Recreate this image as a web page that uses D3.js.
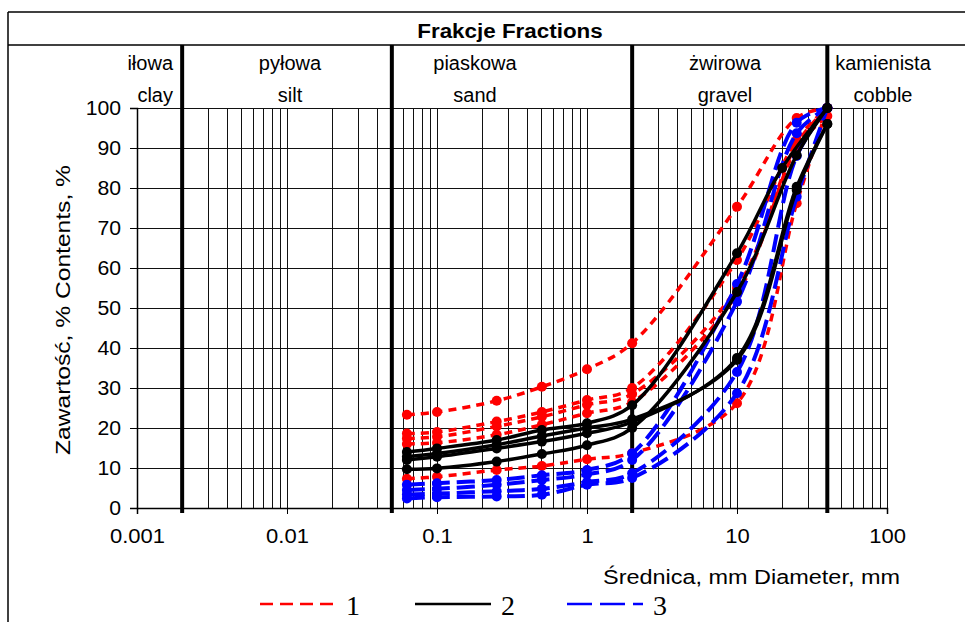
<!DOCTYPE html>
<html>
<head>
<meta charset="utf-8">
<script src="https://cdn.jsdelivr.net/npm/d3@7/dist/d3.min.js"></script>
<style>
    body { margin: 0; background: #fff; }
    text { font-family: "Liberation Sans", Arial, sans-serif; fill: #000; }
</style>
</head>
<body>
<svg id="chart" width="965" height="622"></svg>
<script>
// Sieve sizes, mm
const sieves = [0.063, 0.1, 0.25, 0.5, 1, 2, 10, 25, 40];
const sievesAlt = [0.063, 0.1, 0.25, 0.5, 1, 2, 10, 20, 40];

// Group 1 (red, short dash) - passing, %
const red1 = [23.3, 24.0, 26.8, 30.3, 34.7, 41.2, 75.3, 97.5, 100];
const red2 = [18.6, 19.0, 21.6, 24.0, 27.0, 30.0, 62.0, 92.0, 100];
const red3 = [17.4, 17.8, 20.4, 22.8, 25.8, 28.5, 55.0, 91.0, 100];
const red4 = [16.0, 16.3, 18.3, 20.8, 23.7, 26.5, 53.5, 90.0, 98];
const red5 = [7.3, 7.8, 9.5, 10.5, 12.2, 13.7, 26.2, 76.2, 100];

// Group 2 (black, solid)
const black1 = [9.7, 9.9, 11.6, 13.5, 15.7, 20.0, 54.0, 88.2, 100];
const black2 = [12.0, 12.8, 14.9, 16.6, 18.7, 21.5, 37.5, 80.3, 96];
const black3 = [14.0, 14.9, 17.0, 19.5, 21.2, 25.7, 63.7, 85.0, 100];
const black4 = [12.8, 13.6, 15.8, 18.0, 20.0, 22.2, 37.0, 79.5, 96];

// Group 3 (blue, long dash)
const blue1 = [5.8, 6.2, 7.0, 8.2, 9.5, 13.7, 56.0, 96.3, 100];
const blue2 = [4.5, 4.8, 5.8, 7.0, 8.4, 12.0, 51.6, 93.7, 100];
const blue3 = [3.4, 3.6, 4.2, 4.8, 6.5, 8.7, 34.0, 88.0, 100];
const blue4 = [2.4, 2.7, 2.9, 3.3, 5.8, 7.5, 28.7, 77.8, 100];

// Fraction boundaries and names
const boundaries = [0.002, 0.05, 2, 40];
const fractionPl = ["iłowa", "pyłowa", "piaskowa", "żwirowa", "kamienista"];
const fractionEn = ["clay", "silt", "sand", "gravel", "cobble"];

// Axis ticks
const xTicks = [0.001, 0.01, 0.1, 1, 10, 100];
const xTickLabels = ["0.001", "0.01", "0.1", "1", "10", "100"];
const yTicks = [0, 10, 20, 30, 40, 50, 60, 70, 80, 90, 100];

const series = [
    { group: 1, sizes: sieves, values: red1 },
    { group: 1, sizes: sieves, values: red2 },
    { group: 1, sizes: sieves, values: red3 },
    { group: 1, sizes: sieves, values: red4 },
    { group: 1, sizes: sieves, values: red5 },
    { group: 3, sizes: sieves, values: blue1 },
    { group: 3, sizes: sieves, values: blue2 },
    { group: 3, sizes: sieves, values: blue3 },
    { group: 3, sizes: sieves, values: blue4 },
    { group: 2, sizes: sieves, values: black1 },
    { group: 2, sizes: sieves, values: black2 },
    { group: 2, sizes: sievesAlt, values: black3 },
    { group: 2, sizes: sieves, values: black4 }
];

const groupStyle = {
    1: { color: "#ff0000", dash: "8,6", width: 3.5 },
    2: { color: "#000000", dash: null, width: 3.5 },
    3: { color: "#0000ff", dash: "18,7", width: 4 }
};

const svg = d3.select("#chart");

let x = d3.scaleLog().domain([0.001, 100]).range([137, 887]);
let y = d3.scaleLinear().domain([0, 100]).range([508, 108]);

drawFrame();
drawGrid();
drawAxes();
drawFractions();
drawCurves();
drawLegend();

// Stretches text along its baseline by factor k
function stretch(sel, k) {
    sel.each(function() {
        let w = this.getComputedTextLength();
        d3.select(this)
          .attr("textLength", w * k)
          .attr("lengthAdjust", "spacingAndGlyphs");
    });
}

// Outer frame and header row
function drawFrame() {
    let g = svg.append("g").attr("stroke", "#000").attr("stroke-width", 1.5);
    g.append("line").attr("x1", 8).attr("x2", 965).attr("y1", 12).attr("y2", 12);
    g.append("line").attr("x1", 8).attr("x2", 965).attr("y1", 45).attr("y2", 45);
    g.append("line").attr("x1", 8).attr("x2", 8).attr("y1", 12).attr("y2", 622);

    svg.append("text")
       .attr("x", 510).attr("y", 38)
       .attr("text-anchor", "middle")
       .style("font-weight", "bold")
       .style("font-size", "20px")
       .text("Frakcje Fractions")
       .call(stretch, 1.12);
}

// Log grid
function drawGrid() {
    let minor = [];
    for (let p = -3; p < 2; p++) {
        for (let m = 1; m < 10; m++) minor.push(m * Math.pow(10, p));
    }
    minor.push(100);

    let g = svg.append("g")
               .attr("stroke", "#111")
               .attr("stroke-width", 1)
               .attr("shape-rendering", "crispEdges");

    g.selectAll("line.v")
     .data(minor)
     .enter()
     .append("line")
     .attr("x1", (d) => x(d)).attr("x2", (d) => x(d))
     .attr("y1", y(100)).attr("y2", y(0));

    g.selectAll("line.h")
     .data(yTicks)
     .enter()
     .append("line")
     .attr("x1", x(0.001)).attr("x2", x(100))
     .attr("y1", (d) => y(d)).attr("y2", (d) => y(d));
}

// Axes, tick labels and titles
function drawAxes() {
    let yAxis = d3.axisLeft(y).tickValues(yTicks).tickSize(7).tickPadding(9);
    let gy = svg.append("g").attr("transform", `translate(${x(0.001)},0)`).call(yAxis);
    gy.selectAll("text").style("font-size", "20px").style("font-family", null).call(stretch, 1.06);

    let xAxis = d3.axisBottom(x).tickValues(xTicks)
                  .tickFormat((d, i) => xTickLabels[i])
                  .tickSize(6).tickPadding(15);
    let gx = svg.append("g").attr("transform", `translate(0,${y(0)})`).call(xAxis);
    gx.selectAll("text").style("font-size", "20px").style("font-family", null).call(stretch, 1.1);

    svg.selectAll(".domain").attr("stroke", "#000").attr("stroke-width", 1.5);
    svg.selectAll(".tick line").attr("stroke", "#000");

    svg.append("text")
       .attr("transform", "translate(70,310) rotate(-90)")
       .attr("text-anchor", "middle")
       .style("font-size", "20px")
       .attr("textLength", 290)
       .attr("lengthAdjust", "spacingAndGlyphs")
       .text("Zawartość, % Contents, %");

    svg.append("text")
       .attr("x", 603).attr("y", 584)
       .style("font-size", "20px")
       .attr("textLength", 297)
       .attr("lengthAdjust", "spacingAndGlyphs")
       .text("Średnica, mm Diameter, mm");
}

// Fraction boundaries and labels
function drawFractions() {
    svg.append("g")
       .selectAll("line")
       .data(boundaries)
       .enter()
       .append("line")
       .attr("x1", (d) => x(d)).attr("x2", (d) => x(d))
       .attr("y1", 45).attr("y2", 513)
       .attr("stroke", "#000")
       .attr("stroke-width", 4);

    let centers = [null, 290, 475, 725, 883];
    let g = svg.append("g").style("font-size", "20px");
    fractionPl.forEach((name, i) => {
        let anchor = i === 0 ? "end" : "middle";
        let cx = i === 0 ? 173 : centers[i];
        g.append("text").attr("x", cx).attr("y", 70).attr("text-anchor", anchor).text(name);
        g.append("text").attr("x", cx).attr("y", 102).attr("text-anchor", anchor).text(fractionEn[i]);
    });
}

// Grain size curves with markers
function drawCurves() {
    let line = d3.line()
                 .x((d) => x(d[0]))
                 .y((d) => y(d[1]))
                 .curve(d3.curveCatmullRom.alpha(0.5));

    let g = svg.append("g");
    series.forEach((s) => {
        let st = groupStyle[s.group];
        let pts = s.sizes.map((d, i) => [d, s.values[i]]);
        g.append("path")
         .attr("d", line(pts))
         .attr("fill", "none")
         .attr("stroke", st.color)
         .attr("stroke-width", st.width)
         .attr("stroke-dasharray", st.dash);
        g.selectAll(null)
         .data(pts)
         .enter()
         .append("circle")
         .attr("cx", (d) => x(d[0]))
         .attr("cy", (d) => y(d[1]))
         .attr("r", 5)
         .attr("fill", st.color);
    });
}

// Legend below the chart
function drawLegend() {
    let items = [
        { x: 260, label: "1", st: { color: "#ff0000", dash: "13,7" } },
        { x: 415, label: "2", st: { color: "#000000", dash: null } },
        { x: 567, label: "3", st: { color: "#0000ff", dash: "25,8" } }
    ];
    let g = svg.append("g");
    items.forEach((it) => {
        g.append("line")
         .attr("x1", it.x).attr("x2", it.x + 76)
         .attr("y1", 604).attr("y2", 604)
         .attr("stroke", it.st.color)
         .attr("stroke-width", 2.5)
         .attr("stroke-dasharray", it.st.dash);
        g.append("text")
         .attr("x", it.x + 86).attr("y", 615)
         .style("font-family", "'Liberation Serif', 'Times New Roman', serif")
         .style("font-size", "28px")
         .text(it.label);
    });
}
</script>
</body>
</html>
